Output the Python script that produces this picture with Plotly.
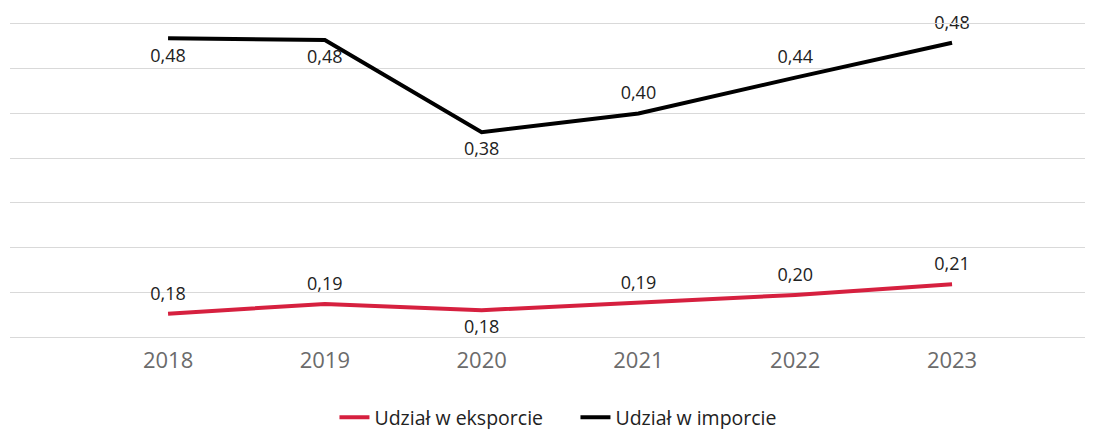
import plotly.graph_objects as go

years = [2018, 2019, 2020, 2021, 2022, 2023]
export_share = [0.176, 0.187, 0.180, 0.188, 0.197, 0.209]
import_share = [0.484, 0.482, 0.379, 0.400, 0.440, 0.479]
export_labels = ["0,18", "0,19", "0,18", "0,19", "0,20", "0,21"]
import_labels = ["0,48", "0,48", "0,38", "0,40", "0,44", "0,48"]
export_pos = ["top center", "top center", "bottom center", "top center", "top center", "top center"]
import_pos = ["bottom center", "bottom center", "bottom center", "top center", "top center", "top center"]

FONT = "Open Sans"

fig = go.Figure()
fig.add_trace(go.Scatter(
    x=years, y=export_share, mode="lines+markers+text", name="Udział w eksporcie",
    line=dict(color="#d6203f", width=4),
    marker=dict(size=14, color="rgba(0,0,0,0)"),
    text=export_labels, textposition=export_pos,
    textfont=dict(family=FONT, size=18, color="#222222"),
    cliponaxis=False,
))
fig.add_trace(go.Scatter(
    x=years, y=import_share, mode="lines+markers+text", name="Udział w imporcie",
    line=dict(color="#000000", width=4),
    marker=dict(size=14, color="rgba(0,0,0,0)"),
    text=import_labels, textposition=import_pos,
    textfont=dict(family=FONT, size=18, color="#222222"),
    cliponaxis=False,
))

fig.update_layout(
    width=1093, height=429,
    margin=dict(l=2, r=0, t=16, b=93),
    paper_bgcolor="white", plot_bgcolor="white",
    font=dict(family=FONT),
    showlegend=True,
    legend=dict(orientation="h", x=0.2974, xanchor="left", y=-0.195, yanchor="top",
                entrywidth=196, entrywidthmode="pixels",
                font=dict(family=FONT, size=19.5, color="#222222"),
                traceorder="normal"),
    xaxis=dict(range=[2016.992, 2023.95], tickvals=years, ticktext=[str(y) for y in years],
               showgrid=False, zeroline=False, ticklabelstandoff=4,
               tickfont=dict(family=FONT, size=22, color="#6b6b6b")),
    yaxis=dict(range=[0.15, 0.5], dtick=0.05, tick0=0.15, showticklabels=False,
               showgrid=True, gridcolor="#d9d9d9", gridwidth=1, zeroline=False,
               showline=False),
)
fig.update_xaxes(showline=True, linecolor="#d9d9d9", linewidth=1, mirror=True)

fig.write_html("out.html")
